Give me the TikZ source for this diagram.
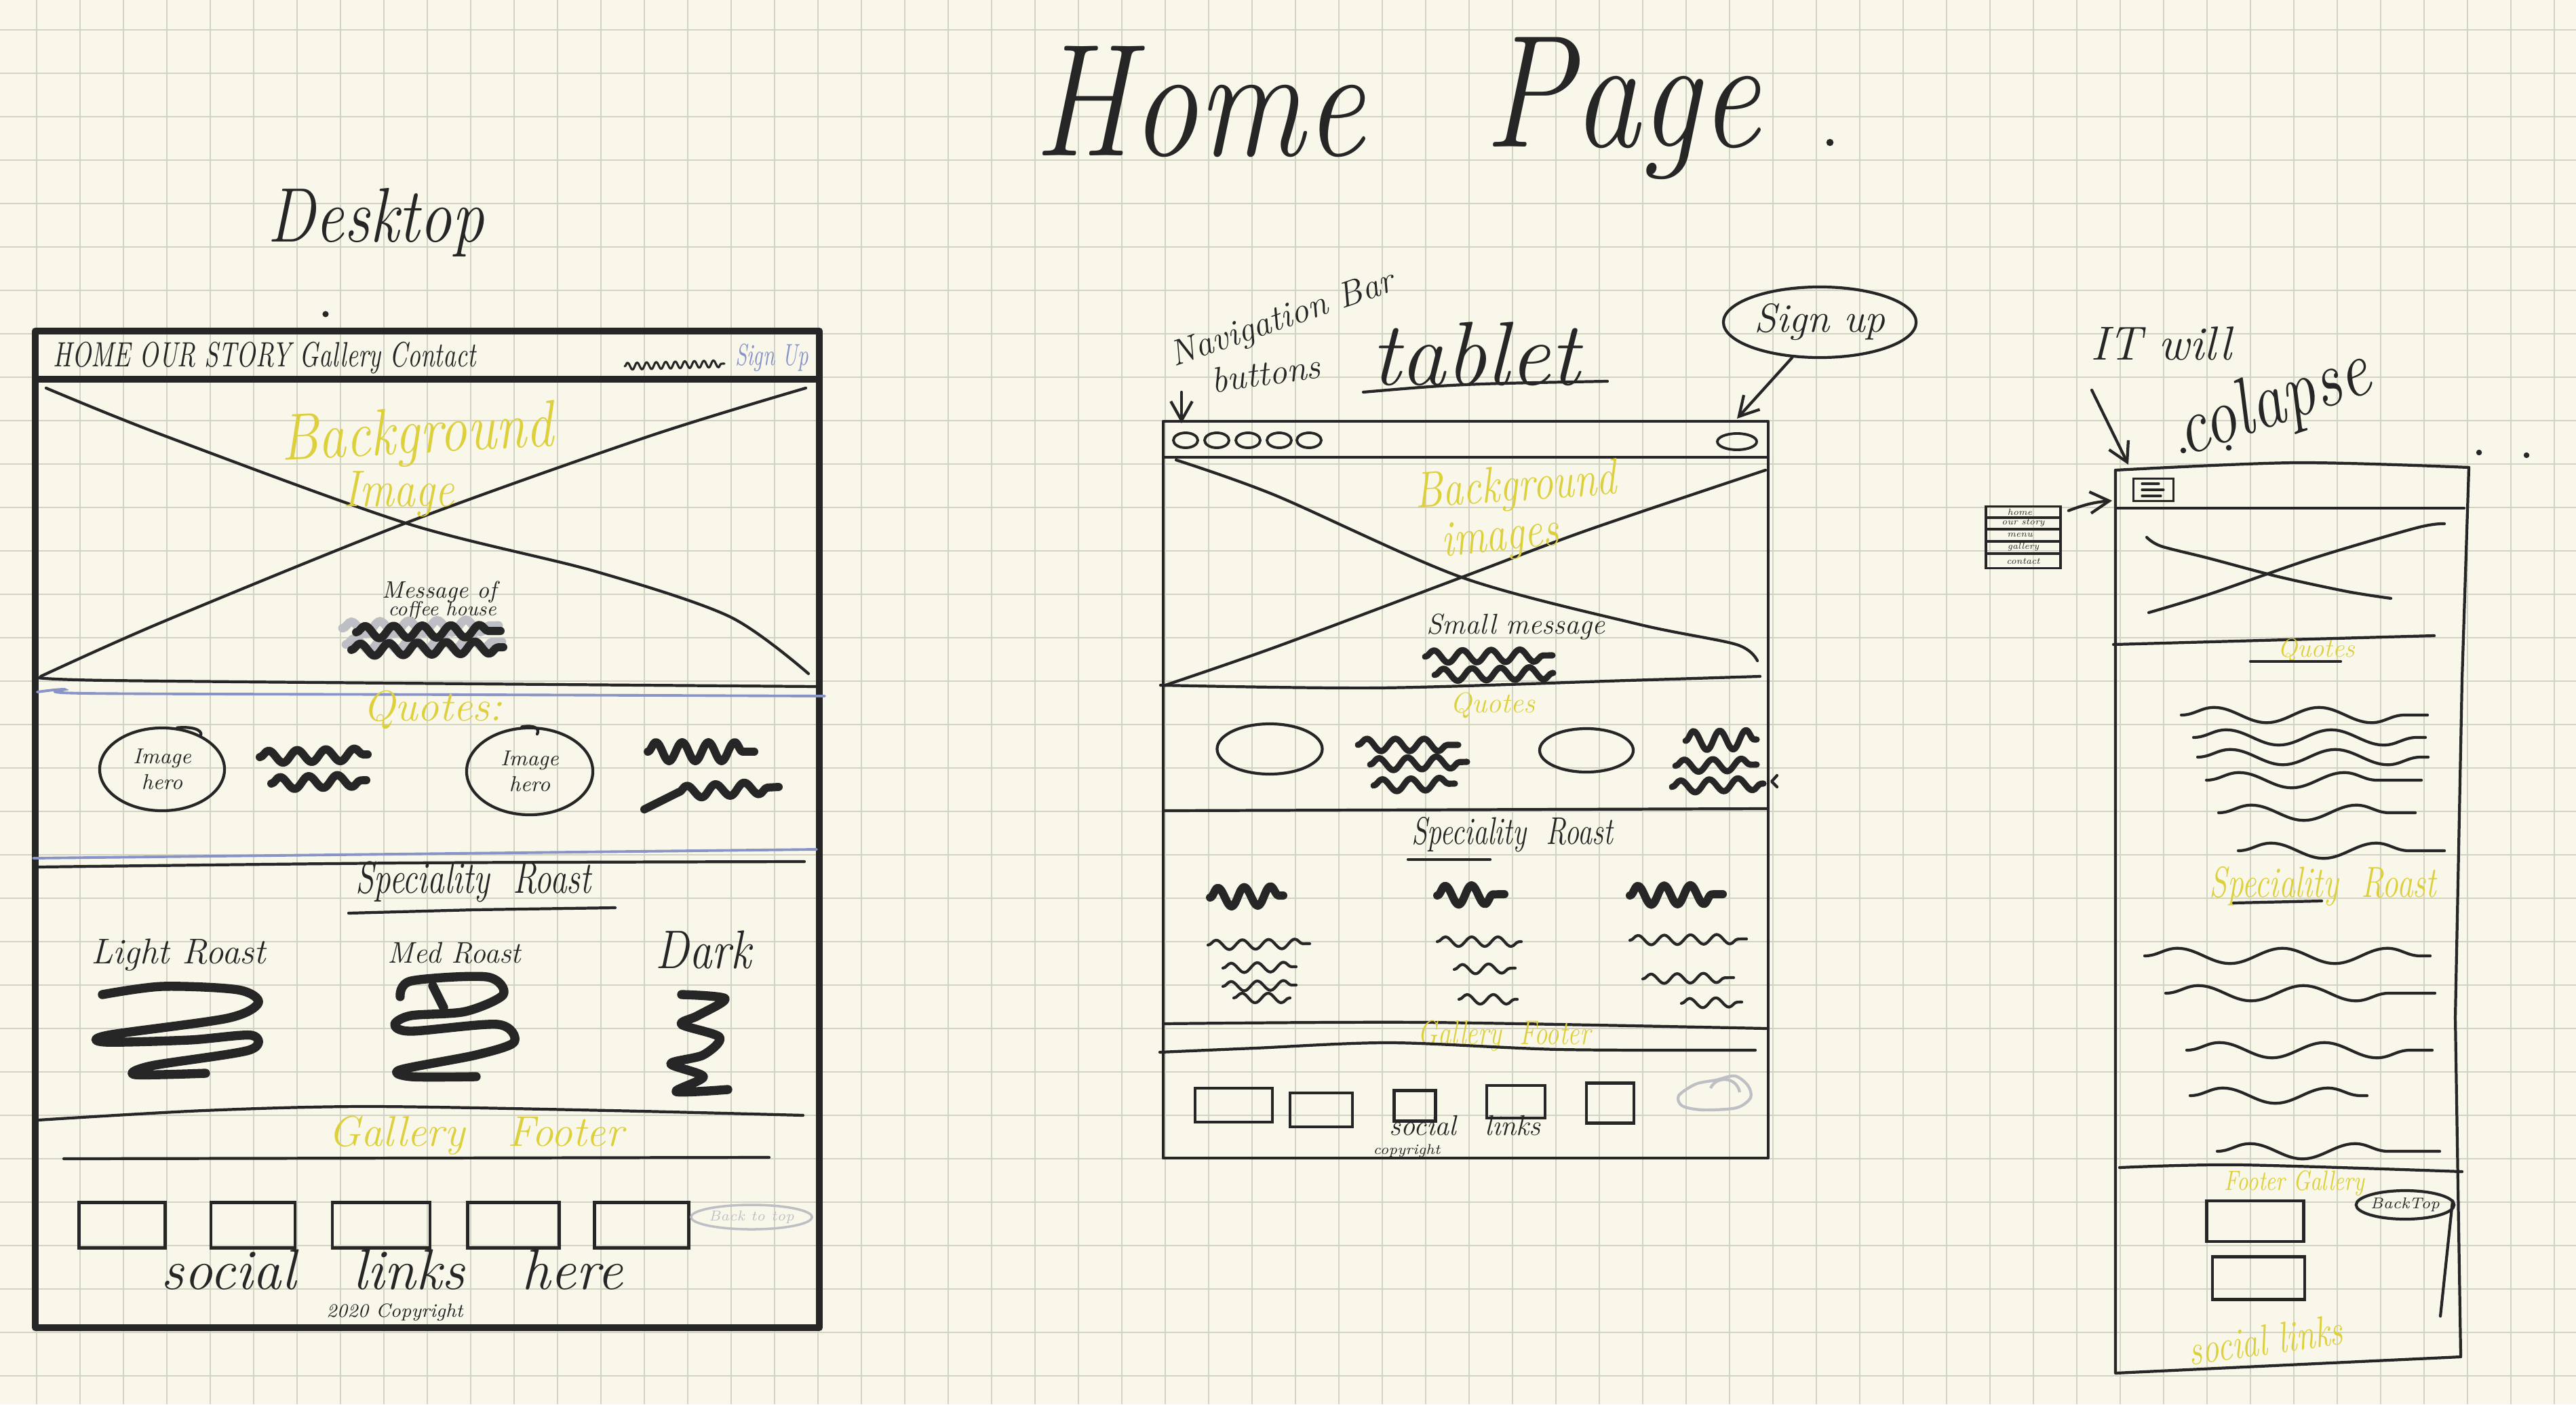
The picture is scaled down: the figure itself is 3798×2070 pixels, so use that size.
\documentclass[tikz,border=0pt]{standalone}
\usepackage{graphicx}
\usetikzlibrary{shapes.geometric,decorations.pathmorphing,arrows.meta}

\definecolor{paper}{HTML}{F8F7E9}
\definecolor{gridc}{HTML}{D3D3C4}
\definecolor{ink}{HTML}{262626}
\definecolor{hil}{HTML}{DDD03C}
\definecolor{pen}{HTML}{8894C8}
\definecolor{faint}{HTML}{BDBFC4}

% handwriting-like text: size in pt, italic
\newcommand\hw[2]{{\fontsize{#1}{#1}\selectfont\itshape #2}}
% vertical stretch of a word
\newcommand\tall[2]{\scalebox{1}[#1]{#2}}

\begin{document}
\begin{tikzpicture}[x=0.01cm,y=-0.01cm,
  gridline/.style={draw=gridc, line width=0.7pt},
  inkln/.style={draw=ink, line width=1.2pt, line cap=round, line join=round},
  frm/.style={draw=ink, line width=2.9pt, line cap=round, line join=round},
  mk/.style={draw=ink, line width=3.4pt, line cap=round, line join=round},
  mkthin/.style={draw=ink, line width=2.6pt, line cap=round, line join=round},
  penln/.style={draw=pen, line width=1.1pt, line cap=round},
  hand/.style={inner sep=0pt, text=ink, font=\itshape},
  hl/.style={hand, text=hil},
  arr/.style={inkln, -{Straight Barb[length=8pt, width=9pt]}},
  mwave/.style={decorate, decoration={snake, amplitude=2.6pt, segment length=12pt}},
  bigm/.style={decorate, decoration={snake, amplitude=4pt, segment length=11pt}},
  swave/.style={decorate, decoration={snake, amplitude=2pt, segment length=11pt}},
  lwave/.style={decorate, decoration={snake, amplitude=3.2pt, segment length=44pt}},
  rbox/.style={draw=ink, line width=1.2pt, inner sep=0pt},
  oval/.style={ellipse, draw=ink, line width=1.2pt, inner sep=0pt, align=center, text=ink},
]

% ---------- paper and grid ----------
\fill[paper] (0,0) rectangle (3798,2070);
\useasboundingbox (0,0) rectangle (3798,2070);
\foreach \k in {0,...,58} \draw[gridline] ({54+64*\k},0) -- ({54+64*\k},2070);
\foreach \k in {0,...,31} \draw[gridline] (0,{44+64*\k}) -- (3798,{44+64*\k});

% ---------- title ----------
\node[hand] (home) at (1768,150) {\tall{1.2}{\hw{56}{Home}}};
\node[hand] (page) at (2392,160) {\tall{1.2}{\hw{56}{Page}}};
\fill[ink] (2698,210) circle[radius=1.5pt];

% ================= DESKTOP =================
\node[hand] (desk) at (554,328) {\tall{1.2}{\hw{27}{Desktop}}};
\fill[ink] (480,463) circle[radius=1.3pt];

\draw[frm] (52,488) rectangle (1208,1957);
\draw[frm] (52,559) -- (1208,559);

\node[hand, anchor=west] (navd) at (78,528) {\tall{1.4}{\hw{10.5}{HOME OUR STORY Gallery Contact}}};
\draw[inkln, line width=0.9pt, decorate, decoration={snake, amplitude=1.5pt, segment length=4pt}] (921,540) -- (1068,536);
\node[hand, text=pen] (signd) at (1138,527) {\tall{1.5}{\hw{8.5}{Sign Up}}};

% hero image cross
\draw[inkln] plot[smooth] coordinates {(68,572) (239,641) (598,771) (877,842) (1076,909) (1192,993)};
\draw[inkln] plot[smooth] coordinates {(1188,572) (957,643) (606,768) (239,917) (60,997)};
\draw[inkln] plot[smooth] coordinates {(56,999) (160,1003) (700,1008) (1206,1012)};
\draw[penln] plot[smooth] coordinates {(55,1020) (95,1016) (125,1022) (700,1024) (1216,1026)};

\node[hl, rotate=3] (bgd) at (615,644) {\tall{1.2}{\hw{23}{Background}}};
\node[hl] (imgd) at (588,728) {\tall{1.2}{\hw{18}{Image}}};
\node[hand] (msgd1) at (648,873) {\hw{10}{Message of}};
\node[hand] (msgd2) at (652,900) {\hw{8.5}{coffee house}};
\draw[faint, line width=3.6pt, line cap=round, mwave] (505,926) -- (735,922);
\draw[faint, line width=3.6pt, line cap=round, mwave] (510,950) -- (740,946);
\draw[mk, mwave] (525,932) -- (738,930);
\draw[mk, mwave] (518,958) -- (742,954);

% quotes
\node[hl] (qd) at (638,1046) {\hw{18}{Quotes:}};
\node[oval, minimum width=1.84cm, minimum height=1.22cm, font=\fontsize{9}{11}\selectfont\itshape] (imgq1) at (239,1134) {Image\\hero};
\node[oval, minimum width=1.86cm, minimum height=1.28cm, font=\fontsize{9}{11}\selectfont\itshape] (imgq2) at (781,1137) {Image\\hero};
\draw[inkln] (imgq1.70) .. controls (292,1070) and (300,1080) .. (295,1085);
\draw[inkln] (imgq2.100) .. controls (790,1068) and (796,1075) .. (792,1082);
\draw[mk, mwave] (383,1116) -- (542,1112);
\draw[mk, mwave] (400,1155) -- (540,1150);
\draw[mk, bigm] (955,1108) -- (1112,1108);
\draw[mk] (950,1193) -- (1000,1168);
\draw[mk, mwave] (1000,1168) -- (1148,1160);

\draw[penln] (49,1265) -- (1204,1252);
\draw[inkln] plot[smooth] coordinates {(56,1278) (600,1272) (1186,1270)};

% speciality roast
\node[hand] (srd) at (698,1300) {\tall{1.35}{\hw{14}{Speciality\ \ Roast}}};
\draw[inkln] (514,1346) -- (700,1341) -- (907,1338);
\node[hand] (lrd) at (263,1408) {\hw{15}{Light Roast}};
\node[hand] (mrd) at (670,1405) {\hw{12.5}{Med Roast}};
\node[hand] (drd) at (1037,1400) {\tall{1.2}{\hw{19}{Dark}}};
\draw[mk, line width=3.8pt] plot[smooth] coordinates {(151,1466) (239,1454) (351,1459) (381,1478) (335,1501) (159,1526) (155,1536) (279,1533) (371,1526) (367,1548) (223,1571) (199,1584) (303,1582)};
\draw[mk, line width=3.8pt] plot[smooth] coordinates {(590,1469) (606,1446) (718,1440) (742,1466) (686,1491) (606,1497) (582,1510) (606,1520) (734,1510) (758,1536) (702,1555) (590,1577) (606,1587) (702,1587)};
\draw[mk, line width=3.8pt] (638,1453) -- (654,1485);
\draw[mk, line width=3.8pt] plot[smooth] coordinates {(1005,1466) (1069,1472) (1029,1497) (1005,1510) (1061,1529) (1037,1555) (989,1568) (1037,1587) (997,1609) (1073,1606)};

% gallery footer
\draw[inkln] plot[smooth] coordinates {(56,1651) (300,1637) (542,1631) (900,1637) (1184,1644)};
\node[hl] (gfd) at (702,1674) {\hw{18}{Gallery\quad Footer}};
\draw[inkln] (94,1708) -- (1134,1706);
\node[rbox, minimum width=1.27cm, minimum height=0.67cm] (db1) at (180,1806) {};
\node[rbox, minimum width=1.24cm, minimum height=0.67cm] (db2) at (373,1806) {};
\node[rbox, minimum width=1.44cm, minimum height=0.67cm] (db3) at (562,1806) {};
\node[rbox, minimum width=1.35cm, minimum height=0.67cm] (db4) at (757,1806) {};
\node[rbox, minimum width=1.39cm, minimum height=0.67cm] (db5) at (946,1806) {};
\node[ellipse, draw=faint, line width=1pt, inner sep=0pt, minimum width=1.46cm, minimum height=0.36cm, text=faint, font=\fontsize{6}{6}\selectfont\itshape] (btd) at (1108,1794) {Back to top};
\node[hand] (sld) at (578,1872) {\hw{24}{social\quad links\quad here}};
\node[hand] (cpd) at (582,1934) {\hw{8}{2020 Copyright}};

% ================= TABLET =================
\node[hand, rotate=19] (navlbl) at (1891,472) {\hw{15}{Navigation Bar}};
\node[hand, rotate=8] (btnlbl) at (1866,550) {\hw{15}{buttons}};
\coordinate (navtail) at (1742,578);
\coordinate (navtip) at (1742,624);
\draw[arr] (navtail) -- (navtip);

\node[hand] (tablbl) at (2175,522) {\hw{38}{tablet}};
\draw[inkln] (2010,578) .. controls (2150,566) .. (2370,562);

\node[oval, minimum width=2.84cm, minimum height=1.04cm, font=\fontsize{17}{17}\selectfont\itshape] (signup) at (2683,475) {Sign up};
\coordinate (signtip) at (2561,617);
\draw[arr] (signup.232) -- (signtip);

\draw[inkln] (1715,621) rectangle (2607,1707);
\draw[inkln] (1715,674) -- (2607,674);
\foreach \x in {1748,1794,1840,1886,1930}
  \node[ellipse, draw=ink, line width=1.1pt, inner sep=0pt, minimum width=0.36cm, minimum height=0.22cm] (tn\x) at (\x,649) {};
\node[ellipse, draw=ink, line width=1.1pt, inner sep=0pt, minimum width=0.58cm, minimum height=0.24cm] (tsign) at (2561,651) {};

\draw[inkln] plot[smooth] coordinates {(1734,678) (1880,730) (2155,851) (2415,920) (2560,950) (2591,974)};
\draw[inkln] plot[smooth] coordinates {(2603,693) (2339,782) (2155,851) (1880,954) (1715,1011)};
\draw[inkln] plot[smooth] coordinates {(1711,1010) (2033,1014) (2400,1003) (2595,997)};

\node[hl, rotate=4] (tbg) at (2235,720) {\tall{1.25}{\hw{17}{Background}}};
\node[hl, rotate=6] (timg) at (2212,795) {\tall{1.25}{\hw{17}{images}}};
\node[hand] (tmsg) at (2235,924) {\hw{12}{Small message}};
\draw[mkthin, mwave] (2101,968) -- (2289,966);
\draw[mkthin, mwave] (2115,995) -- (2290,992);

\node[hl] (tq) at (2201,1040) {\hw{12}{Quotes}};
\node[oval, minimum width=1.55cm, minimum height=0.74cm] (tq1) at (1872,1104) {};
\node[oval, minimum width=1.38cm, minimum height=0.64cm] (tq2) at (2339,1106) {};
\draw[mkthin, mwave] (2002,1098) -- (2150,1098);
\draw[mkthin, mwave] (2020,1127) -- (2163,1123);
\draw[mkthin, mwave] (2025,1158) -- (2145,1155);
\draw[mkthin, bigm] (2485,1092) -- (2590,1090);
\draw[mkthin, mwave] (2470,1129) -- (2590,1127);
\draw[mkthin, mwave] (2465,1160) -- (2600,1155);
\draw[inkln] (2620,1143) -- (2612,1152) -- (2620,1160);
\draw[inkln] (1717,1195) -- (2607,1192);

\node[hand] (tsr) at (2230,1230) {\tall{1.35}{\hw{12}{Speciality\ \ Roast}}};
\draw[inkln] (2076,1267) -- (2197,1267);
\draw[mk, bigm] (1784,1323) -- (1892,1320);
\draw[mk, bigm] (2119,1320) -- (2218,1318);
\draw[mk, bigm] (2403,1320) -- (2540,1318);
\draw[inkln, swave] (1781,1393) -- (1931,1391);
\draw[inkln, swave] (1803,1427) -- (1911,1425);
\draw[inkln, swave] (1803,1454) -- (1911,1452);
\draw[inkln, swave] (1819,1471) -- (1902,1471);
\draw[inkln, swave] (2119,1388) -- (2243,1388);
\draw[inkln, swave] (2144,1429) -- (2234,1427);
\draw[inkln, swave] (2151,1473) -- (2237,1473);
\draw[inkln, swave] (2403,1386) -- (2575,1384);
\draw[inkln, swave] (2422,1443) -- (2556,1441);
\draw[inkln, swave] (2479,1479) -- (2568,1477);

\draw[inkln] plot[smooth] coordinates {(1715,1509) (2100,1507) (2604,1516)};
\node[hl] (tgf) at (2218,1527) {\tall{1.3}{\hw{11}{Gallery\ \ Footer}}};
\draw[inkln] plot[smooth] coordinates {(1710,1551) (1850,1545) (2050,1537) (2300,1547) (2588,1548)};
\node[rbox, minimum width=1.14cm, minimum height=0.50cm] (tb1) at (1819,1629) {};
\node[rbox, minimum width=0.92cm, minimum height=0.50cm] (tb2) at (1948,1636) {};
\node[rbox, minimum width=0.61cm, minimum height=0.45cm] (tb3) at (2086,1630) {};
\node[rbox, minimum width=0.86cm, minimum height=0.48cm] (tb4) at (2235,1624) {};
\node[rbox, minimum width=0.70cm, minimum height=0.59cm] (tb5) at (2374,1626) {};
\draw[faint, line width=1.2pt] plot[smooth cycle] coordinates {(2475,1615) (2500,1598) (2530,1592) (2558,1586) (2577,1600) (2581,1618) (2560,1633) (2510,1636) (2480,1630)};
\draw[faint, line width=1.2pt] (2522,1604) .. controls (2530,1586) and (2560,1586) .. (2565,1610);
\node[hand] (tsl) at (2160,1659) {\hw{12}{social\quad links}};
\node[hand] (tcp) at (2074,1696) {\hw{6}{copyright}};

% ================= MOBILE =================
\node[hand] (itwill) at (3186,506) {\hw{20}{IT will}};
\node[hand, rotate=19] (colapse) at (3352,596) {\tall{1.2}{\hw{28}{colapse}}};
\coordinate (ittail) at (3084,575);
\coordinate (phtip) at (3138,685);
\draw[arr] (ittail) -- (phtip);
\fill[ink] (3219,664) circle[radius=1.2pt];
\fill[ink] (3286,660) circle[radius=1.2pt];
\fill[ink] (3655,667) circle[radius=1.2pt];
\fill[ink] (3725,671) circle[radius=1.2pt];

\draw[inkln] plot[smooth] coordinates {(3119,693) (3385,682) (3640,689)};
\draw[inkln] (3640,689) -- (3630,1000) -- (3620,1500) -- (3628,2000) -- (3500,2006) -- (3119,2024) -- (3119,693);
\draw[inkln] (3616,1770) -- (3598,1940);
\draw[inkln] (3119,749) -- (3633,749);

\node[rbox, line width=1pt, minimum width=0.59cm, minimum height=0.33cm] (burger) at (3175,722) {};
\draw[inkln, line width=0.9pt] (3158,713) -- (3183,713);
\draw[inkln, line width=0.9pt] (3158,722) -- (3190,722);
\draw[inkln, line width=0.9pt] (3158,731) -- (3186,731);

\node[rbox, line width=1pt, minimum width=1.10cm, minimum height=0.91cm] (menu) at (2983,792) {};
\foreach \yy in {763,780,798,816} \draw[inkln, line width=0.9pt] (2928,\yy) -- (3038,\yy);
\node[hand] (m1) at (2978,755) {\hw{3.8}{home}};
\node[hand] (m2) at (2983,771) {\hw{3.8}{our story}};
\node[hand] (m3) at (2978,789) {\hw{3.8}{menu}};
\node[hand] (m4) at (2983,806) {\hw{3.8}{gallery}};
\node[hand] (m5) at (2983,827) {\hw{3.8}{contact}};
\coordinate (phnav) at (3114,738);
\draw[arr] ([shift={(10,8)}]menu.north east) to[bend left=8] (phnav);

\draw[inkln] plot[smooth] coordinates {(3165,792) (3186,805) (3257,823) (3359,850) (3461,872) (3525,882)};
\draw[inkln] plot[smooth] coordinates {(3604,772) (3563,778) (3410,823) (3257,876) (3168,903)};
\draw[inkln] (3116,950) -- (3589,937);
\node[hl] (mq) at (3415,959) {\hw{11}{Quotes}};
\draw[inkln] (3318,975) -- (3451,975);

\draw[inkln, lwave] (3216,1054) -- (3579,1054);
\draw[inkln, lwave] (3234,1087) -- (3576,1087);
\draw[inkln, lwave] (3240,1116) -- (3580,1116);
\draw[inkln, lwave] (3253,1150) -- (3570,1150);
\draw[inkln, lwave] (3271,1198) -- (3561,1198);
\draw[inkln, lwave] (3300,1254) -- (3604,1254);

\node[hl] (msr) at (3425,1306) {\tall{1.35}{\hw{13.5}{Speciality\ \ Roast}}};
\draw[inkln] (3293,1331) -- (3423,1328);

\draw[inkln, lwave] (3162,1409) -- (3583,1409);
\draw[inkln, lwave] (3193,1464) -- (3590,1464);
\draw[inkln, lwave] (3224,1548) -- (3586,1548);
\draw[inkln, lwave] (3229,1615) -- (3490,1615);
\draw[inkln, lwave] (3269,1697) -- (3597,1697);

\draw[inkln] plot[smooth] coordinates {(3125,1721) (3300,1717) (3630,1727)};
\node[hl] (mfg) at (3383,1744) {\tall{1.3}{\hw{9}{Footer Gallery}}};
\node[oval, minimum width=1.02cm, minimum height=0.42cm, font=\fontsize{6.5}{6.5}\selectfont\itshape] (mbt) at (3546,1776) {BackTop};
\node[rbox, minimum width=1.43cm, minimum height=0.60cm] (mb1) at (3325,1800) {};
\node[rbox, minimum width=1.36cm, minimum height=0.63cm] (mb2) at (3330,1884) {};
\node[hl, rotate=8] (msl) at (3340,1975) {\tall{1.3}{\hw{14}{social links}}};

\end{tikzpicture}
\end{document}
